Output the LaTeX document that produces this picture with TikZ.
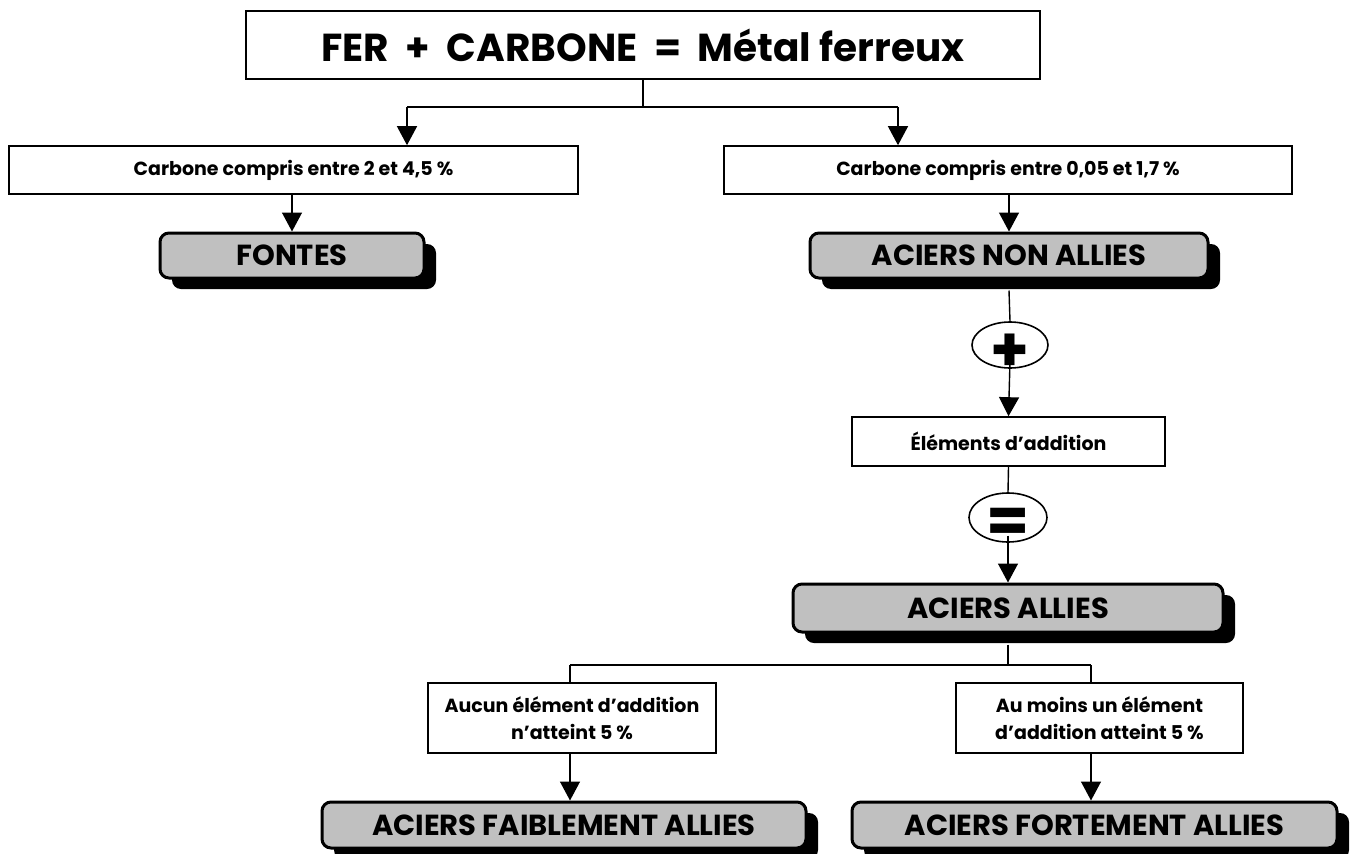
\documentclass[tikz,border=0pt]{standalone}
\usepackage{fontspec}
\setmainfont{Poppins}
\usetikzlibrary{arrows.meta,shapes.geometric,shadows}
\definecolor{boxgray}{RGB}{192,192,192}
\tikzset{
  plainbox/.style={draw, line width=1.6pt, fill=white, rectangle, inner sep=0pt, align=center,
    font=\bfseries\fontsize{19}{27}\selectfont},
  graybox/.style={draw, line width=3pt, fill=boxgray, rectangle, rounded corners=9pt, inner sep=0pt,
    font=\bfseries\fontsize{29}{32}\selectfont,
    drop shadow={shadow xshift=12pt, shadow yshift=-11pt, fill=black, opacity=1}},
  opbox/.style={draw, line width=1.6pt, fill=white, ellipse, inner sep=0pt,
    font=\bfseries\fontsize{62}{62}\selectfont},
  conn/.style={line width=1.4pt},
  arr/.style={conn, -{Triangle[length=19pt,width=20pt]}},
}
\begin{document}
\begin{tikzpicture}[x=1pt,y=-1pt]
\useasboundingbox (0,0) rectangle (1358,854);
% nodes
\node[plainbox, minimum width=794pt, minimum height=68pt, font=\bfseries\fontsize{39}{44}\selectfont] (top) at (643,45) {FER~~+~~CARBONE~~=~~Métal ferreux};
\node[plainbox, minimum width=569pt, minimum height=48pt] (cL) at (293.5,170) {Carbone compris entre 2 et 4,5 \%};
\node[plainbox, minimum width=568pt, minimum height=48pt] (cR) at (1008,170) {Carbone compris entre 0,05 et 1,7 \%};
\node[graybox, minimum width=264pt, minimum height=45pt] (fontes) at (292,255.5) {FONTES};
\node[graybox, minimum width=398pt, minimum height=45pt] (nonallies) at (1009,255.5) {ACIERS NON ALLIES};
\node[opbox, minimum width=76pt, minimum height=46pt] (plus) at (1010,345) {\smash{\raisebox{-26pt}{+}}};
\node[plainbox, minimum width=313pt, minimum height=49pt] (elem) at (1008.5,441.5) {Éléments d’addition};
\node[opbox, minimum width=78pt, minimum height=49pt] (equal) at (1008,517.5) {\smash{\raisebox{-25pt}{=}}};
\node[graybox, minimum width=430pt, minimum height=48pt] (allies) at (1008,608) {ACIERS ALLIES};
\node[plainbox, minimum width=288pt, minimum height=70pt] (sL) at (572,718) {Aucun élément d’addition\\n’atteint 5 \%};
\node[plainbox, minimum width=287pt, minimum height=70pt] (sR) at (1099.5,718) {Au moins un élément\\d’addition atteint 5 \%};
\node[graybox, minimum width=484pt, minimum height=46pt] (faible) at (564,825) {ACIERS FAIBLEMENT ALLIES};
\node[graybox, minimum width=485pt, minimum height=46pt] (forte) at (1094.5,825) {ACIERS FORTEMENT ALLIES};
% junction points
\coordinate (j1) at (643,107);
\coordinate (jL) at (407,107);
\coordinate (jR) at (898,107);
\coordinate (j2) at (1008,665);
\coordinate (kL) at (570,665);
\coordinate (kR) at (1091,665);
% connectors
\draw[conn] (top.south) -- (j1);
\draw[conn, line width=2.4pt] (jL) -- (jR);
\draw[arr] (jL) -- (jL |- cL.north);
\draw[arr] (jR) -- (jR |- cR.north);
\draw[arr] (fontes.north |- cL.south) -- (fontes.north);
\draw[arr] (nonallies.north |- cR.south) -- (nonallies.north);
\draw[conn] ([yshift=-11pt]nonallies.south) -- (plus.north);
\draw[arr] ([yshift=-16pt]plus.center) -- (elem.north);
\draw[conn] (elem.south) -- (equal.north);
\draw[arr] ([yshift=-18pt]equal.center) -- (allies.north);
\draw[conn] ([yshift=-11pt]allies.south) -- (j2);
\draw[conn] (kL) -- (kR);
\draw[conn] (kL) -- (sL.north -| kL);
\draw[conn] (kR) -- (sR.north -| kR);
\draw[arr] (sL.south -| kL) -- (faible.north -| kL);
\draw[arr] (sR.south -| kR) -- (forte.north -| kR);
\end{tikzpicture}
\end{document}
